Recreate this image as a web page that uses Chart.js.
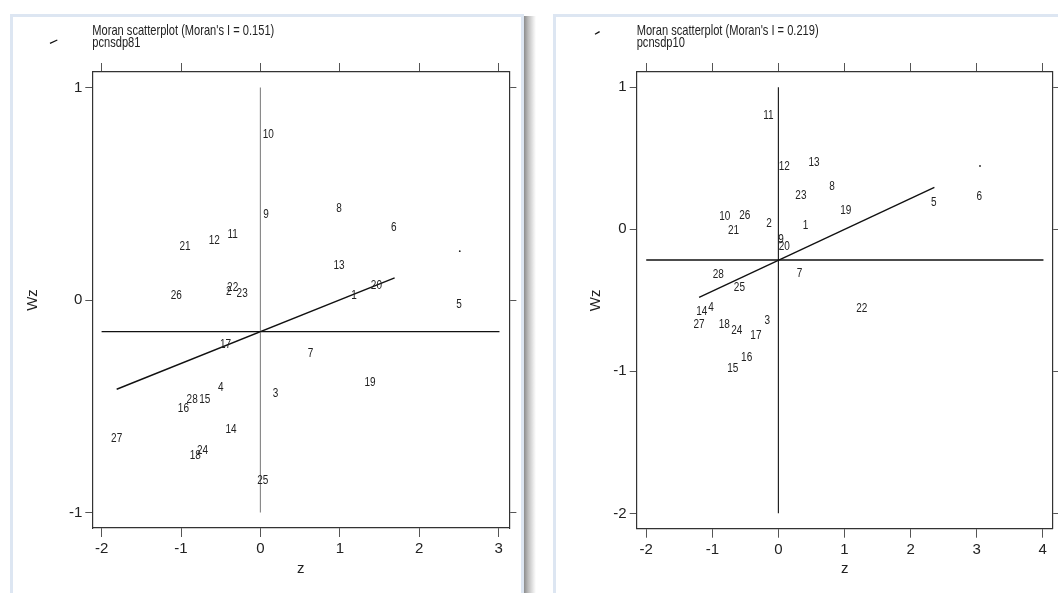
<!DOCTYPE html>
<html>
<head>
<meta charset="utf-8">
<script src="https://cdn.jsdelivr.net/npm/chart.js@4.4.1/dist/chart.umd.min.js"></script>
<style>
  html, body { margin:0; padding:0; background:#fff; width:1058px; height:593px; overflow:hidden; }
  .frame { position:absolute; top:14px; height:600px; border:3px solid #dde6f2; border-bottom:none; box-sizing:border-box; }
  #frameL { left:10px; width:514px; }
  #frameR { left:553px; width:520px; }
  #shadow { position:absolute; left:524px; top:16px; width:12px; height:590px;
            background:linear-gradient(to right,#8c8c8c,#bdbdbd 35%,#ececec 80%,#fff); }
  .wrap { position:absolute; top:0; }
  #wrapL { left:0; }
  #wrapR { left:530px; }
</style>
</head>
<body>
<div class="frame" id="frameL"></div>
<div id="shadow"></div>
<div class="frame" id="frameR"></div>
<div class="wrap" id="wrapL"><canvas id="moran81" width="530" height="593"></canvas></div>
<div class="wrap" id="wrapR"><canvas id="moran10" width="528" height="593"></canvas></div>

<script>
// номера регионов (метки точек)
const ids = ['1','2','3','4','5','6','7','8','9','10','11','12','13','14',
             '15','16','17','18','19','20','21','22','23','24','25','26','27','28'];

// pcnsdp81: z и Wz
const z81  = [1.18, -0.40, 0.19, -0.50, 2.50, 1.68, 0.63, 0.99, 0.07, 0.10, -0.35, -0.58, 0.99, -0.37,
              -0.70, -0.97, -0.44, -0.82, 1.38, 1.46, -0.95, -0.35, -0.23, -0.73, 0.03, -1.06, -1.81, -0.86];
const wz81 = [0.02, 0.04, -0.44, -0.41, -0.02, 0.34, -0.25, 0.43, 0.40, 0.78, 0.31, 0.28, 0.16, -0.61,
              -0.47, -0.51, -0.21, -0.73, -0.39, 0.07, 0.25, 0.06, 0.03, -0.71, -0.85, 0.02, -0.65, -0.47];

// pcnsdp10: z и Wz
const z10  = [0.41, -0.14, -0.17, -1.02, 2.35, 3.04, 0.32, 0.81, 0.04, -0.81, -0.15, 0.09, 0.54, -1.16,
              -0.69, -0.48, -0.34, -0.82, 1.02, 0.09, -0.68, 1.26, 0.34, -0.63, -0.59, -0.51, -1.20, -0.91];
const wz10 = [0.03, 0.04, -0.64, -0.55, 0.19, 0.23, -0.31, 0.30, -0.07, 0.09, 0.80, 0.44, 0.47, -0.58,
              -0.98, -0.90, -0.75, -0.67, 0.13, -0.12, -0.01, -0.56, 0.24, -0.71, -0.41, 0.10, -0.67, -0.32];

// опорные линии: горизонталь (среднее Wz), вертикаль z=0, линия регрессии
const hLine81 = { x: [-2, 3.01], y: -0.149 };
const vLine81 = { x: 0, y: [1, -1] };
const fit81   = { x: [-1.81, 1.69], y: [-0.42, 0.104] };
const dot81   = { x: 2.51, y: 0.23 };

const hLine10 = { x: [-2, 4.01], y: -0.216 };
const vLine10 = { x: 0, y: [1, -2] };
const fit10   = { x: [-1.2, 2.36], y: [-0.479, 0.296] };
const dot10   = { x: 3.05, y: 0.446 };

// тики осей
const xTicks81 = [-2, -1, 0, 1, 2, 3];
const yTicks81 = [-1, 0, 1];
const xTicks10 = [-2, -1, 0, 1, 2, 3, 4];
const yTicks10 = [-2, -1, 0, 1];

const NARROW = '"Liberation Sans Narrow", "Arial Narrow", "Liberation Sans", sans-serif';
const INK = '#222';

// подписи точек номерами регионов
const pointLabels = {
  id: 'pointLabels',
  afterDatasetsDraw(chart) {
    const ctx = chart.ctx;
    const meta = chart.getDatasetMeta(0);
    ctx.save();
    ctx.fillStyle = INK;
    ctx.font = '12.5px ' + NARROW;
    ctx.textAlign = 'center';
    ctx.textBaseline = 'middle';
    meta.data.forEach((pt, i) => {
      ctx.save();
      ctx.translate(pt.x, pt.y);
      ctx.scale(0.8, 1);
      ctx.fillText(ids[i], 0, 0);
      ctx.restore();
    });
    ctx.restore();
  }
};

// заголовок слева над областью графика + маленький штрих
const panelTitle = {
  id: 'panelTitle',
  afterDraw(chart, args, opts) {
    const ctx = chart.ctx;
    const left = chart.chartArea.left;
    ctx.save();
    ctx.fillStyle = INK;
    ctx.font = '15px ' + NARROW;
    ctx.textBaseline = 'middle';
    [[opts.title, 30.5], [opts.sub, 42.5]].forEach(([t, y]) => {
      ctx.save();
      ctx.translate(left, y);
      ctx.scale(0.74, 1);
      ctx.fillText(t, 0, 0);
      ctx.restore();
    });
    if (opts.mark) {
      ctx.strokeStyle = '#111';
      ctx.lineWidth = 1.3;
      ctx.beginPath();
      ctx.moveTo(opts.mark[0], opts.mark[1]);
      ctx.lineTo(opts.mark[2], opts.mark[3]);
      ctx.stroke();
    }
    ctx.restore();
  }
};

function lineSet(points, color, width) {
  return { type: 'line', data: points, borderColor: color, borderWidth: width,
           pointRadius: 0, fill: false, tension: 0, showLine: true };
}

function axis(pos, ticks, range, fit, tickLen, withLabels, title) {
  return {
    type: 'linear', position: pos, min: range[0], max: range[1],
    afterBuildTicks: s => { s.ticks = ticks.map(v => ({ value: v })); },
    afterFit: s => { if (pos === 'left' || pos === 'right') s.width = fit; else s.height = fit; },
    grid: { drawOnChartArea: false, drawTicks: true, tickLength: tickLen, tickColor: '#555', color: '#555' },
    border: { display: true, color: '#333', width: 1.2 },
    ticks: { display: withLabels, color: INK, padding: 3, font: { family: NARROW, size: 15 },
             callback: v => String(v) },
    title: title || { display: false }
  };
}

function makePanel(canvasId, cfg) {
  const pts = cfg.z.map((x, i) => ({ x, y: cfg.wz[i] }));
  new Chart(document.getElementById(canvasId), {
    type: 'scatter',
    data: {
      datasets: [
        { data: pts, pointRadius: 0, pointHoverRadius: 0 },
        lineSet([{ x: cfg.h.x[0], y: cfg.h.y }, { x: cfg.h.x[1], y: cfg.h.y }], '#111', 1.3),
        lineSet([{ x: cfg.v.x, y: cfg.v.y[0] }, { x: cfg.v.x, y: cfg.v.y[1] }], cfg.vColor, 1.2),
        lineSet([{ x: cfg.fit.x[0], y: cfg.fit.y[0] }, { x: cfg.fit.x[1], y: cfg.fit.y[1] }], '#111', 1.4),
        { data: [cfg.dot], pointRadius: 0.9, backgroundColor: '#222', borderWidth: 0 }
      ]
    },
    options: {
      responsive: false,
      animation: false,
      layout: { padding: 0 },
      plugins: {
        legend: { display: false },
        tooltip: { enabled: false },
        panelTitle: { title: cfg.title, sub: cfg.sub, mark: cfg.mark }
      },
      scales: {
        x: axis('bottom', cfg.xTicks, cfg.xRange, cfg.bottomH, 9, true,
                { display: true, text: 'z', color: INK, font: { family: NARROW, size: 15 },
                  padding: { top: 0, bottom: 15 } }),
        x2: axis('top', cfg.xTicks, cfg.xRange, 72, 9, false),
        y: axis('left', cfg.yTicks, cfg.yRange, cfg.leftW, 7, true,
                { display: true, text: 'Wz', color: INK, font: { family: NARROW, size: 15 },
                  padding: { top: cfg.yTitlePad, bottom: 0 } }),
        y2: axis('right', cfg.yTicks, cfg.yRange, cfg.rightW, 7, false)
      }
    },
    plugins: [pointLabels, panelTitle]
  });
}

makePanel('moran81', {
  z: z81, wz: wz81, h: hLine81, v: vLine81, fit: fit81, dot: dot81, vColor: '#8a8a8a',
  xTicks: xTicks81, yTicks: yTicks81, xRange: [-2.117, 3.135], yRange: [-1.073, 1.073],
  leftW: 92.3, rightW: 20.6, bottomH: 65, yTitlePad: 24,
  title: "Moran scatterplot (Moran's I = 0.151)", sub: 'pcnsdp81', mark: [50, 43.3, 57.3, 40]
});

makePanel('moran10', {
  z: z10, wz: wz10, h: hLine10, v: vLine10, fit: fit10, dot: dot10, vColor: '#222',
  xTicks: xTicks10, yTicks: yTicks10, xRange: [-2.144, 4.153], yRange: [-2.108, 1.108],
  leftW: 106.7, rightW: 5.1, bottomH: 64.3, yTitlePad: 57,
  title: "Moran scatterplot (Moran's I = 0.219)", sub: 'pcnsdp10', mark: [65, 34.3, 69.6, 31.6]
});
</script>
</body>
</html>
